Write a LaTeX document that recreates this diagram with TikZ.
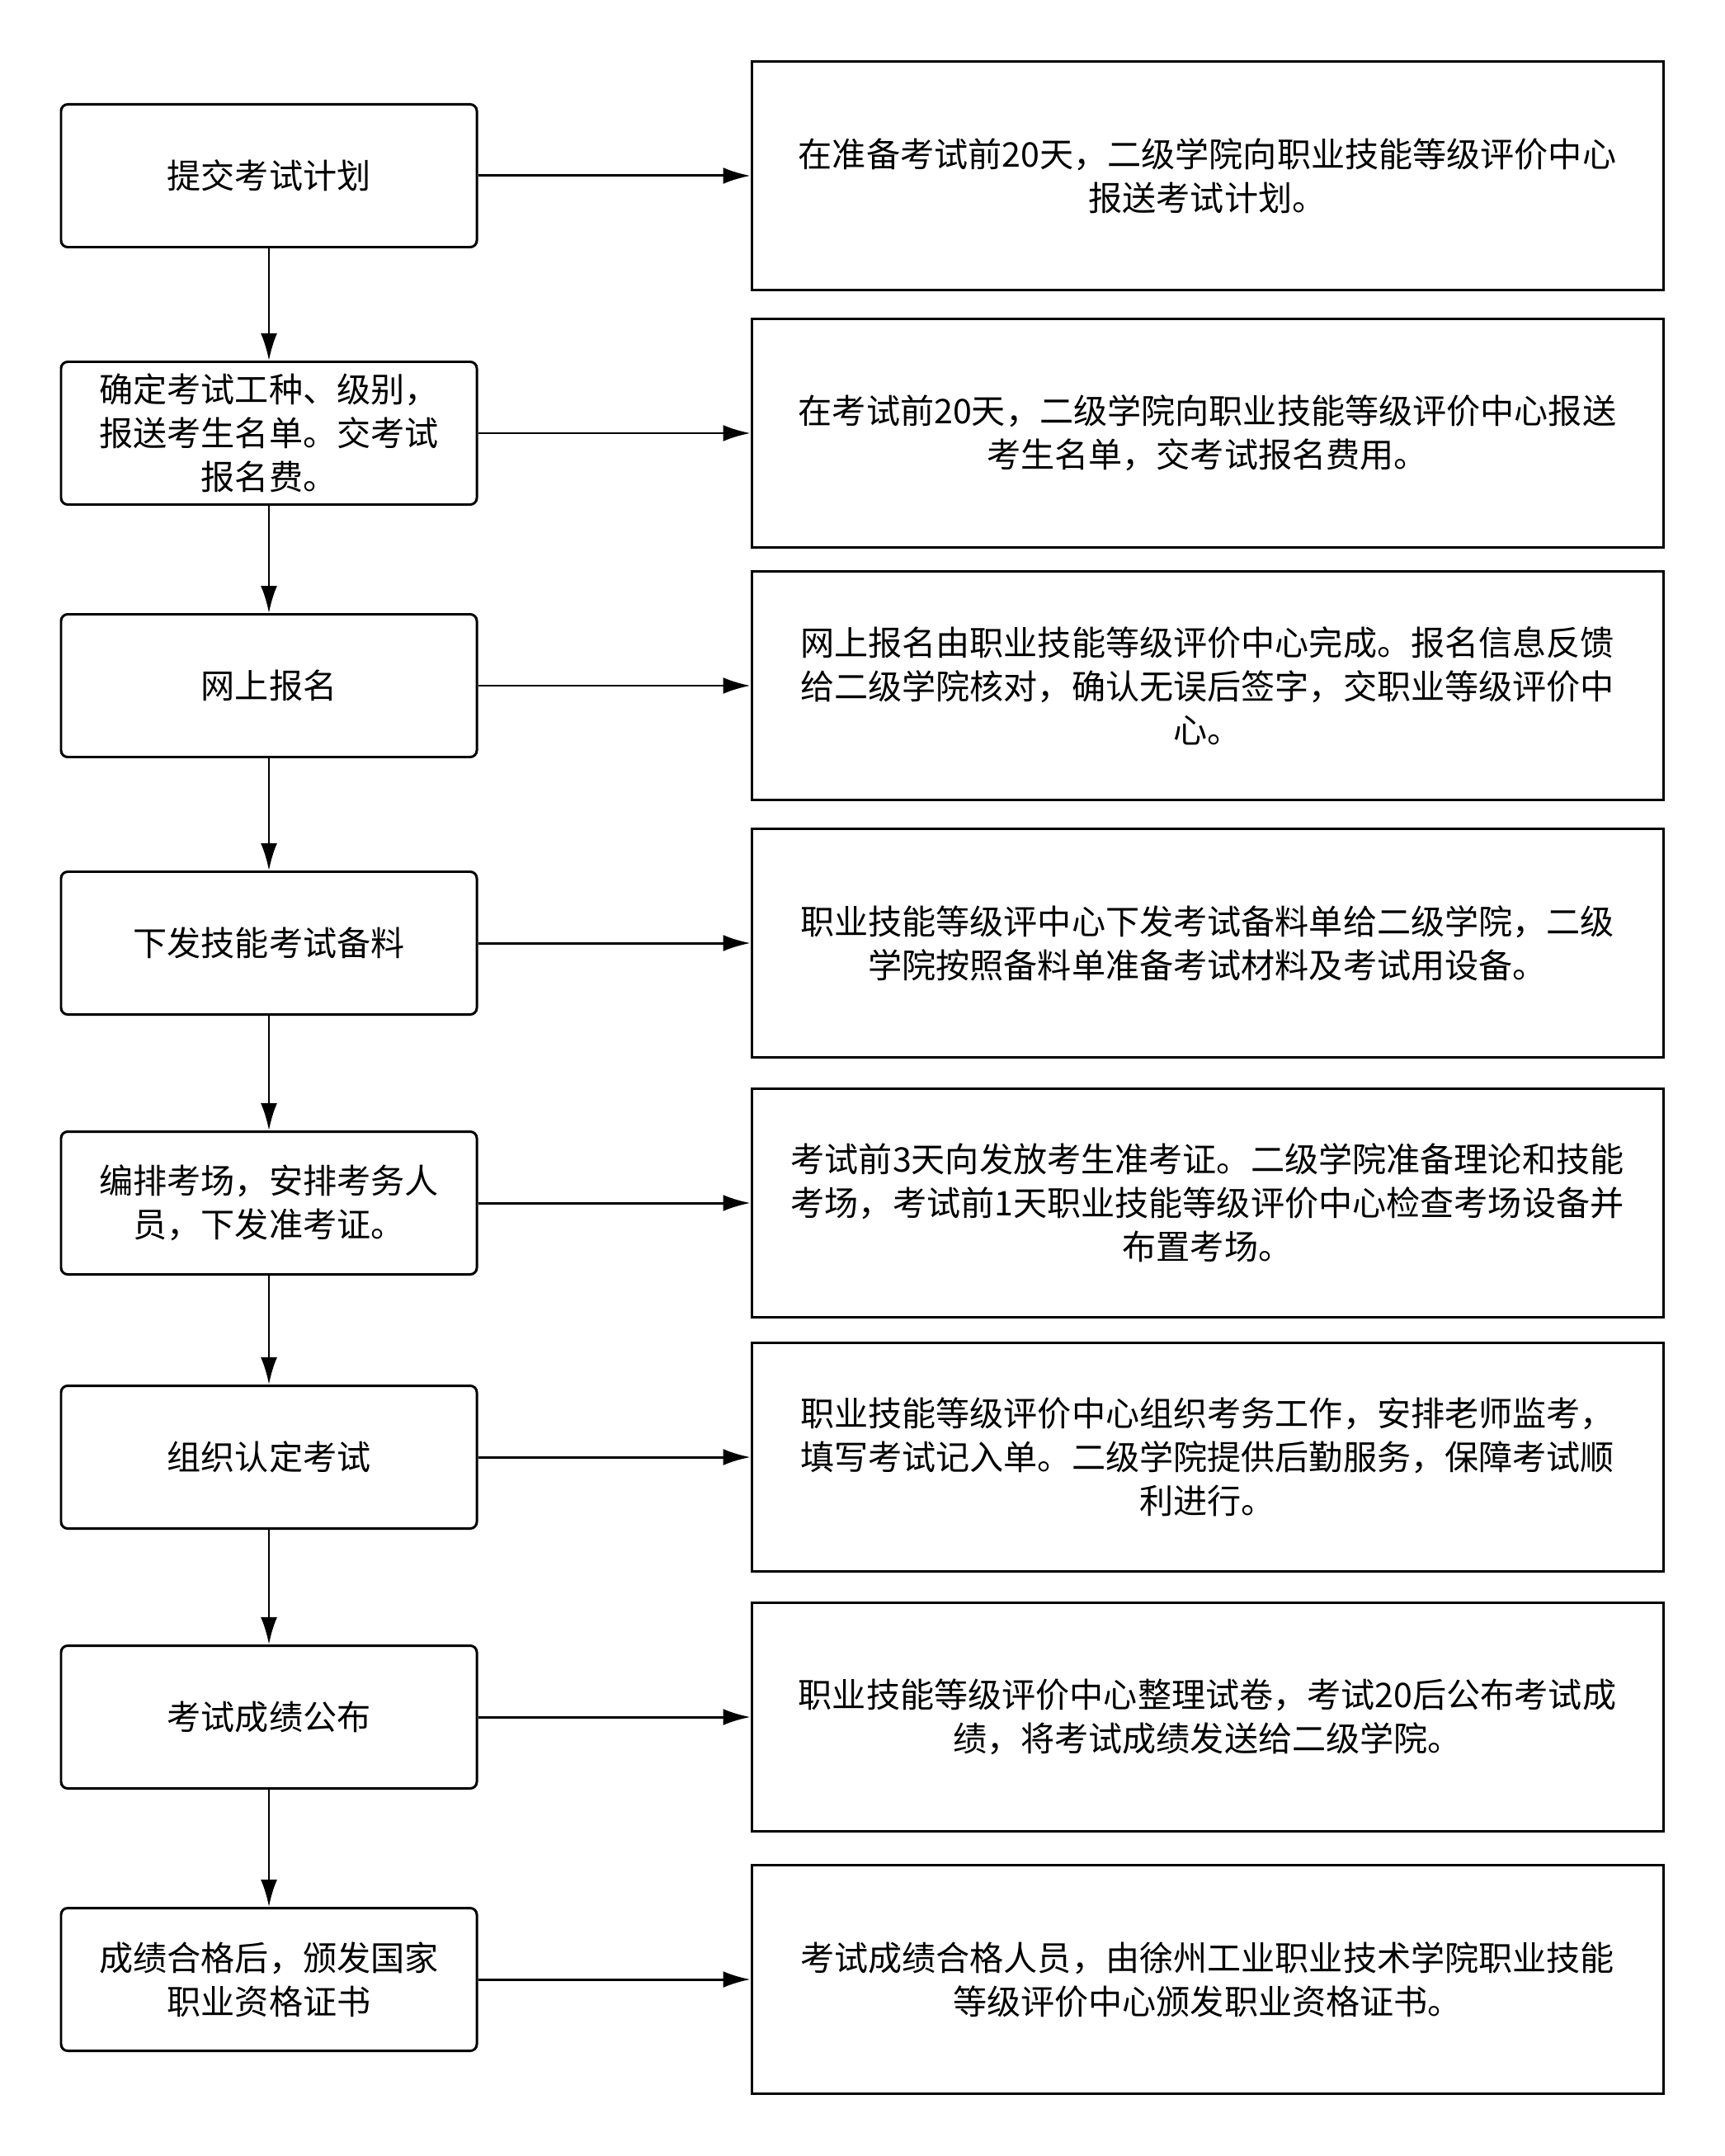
\documentclass[tikz,border=0pt]{standalone}
\usepackage{fontspec}
\newfontfamily\cjk{Noto Sans CJK SC}
\usepackage{tikz}
\usetikzlibrary{arrows.meta}

\begin{document}
\begin{tikzpicture}[line width=0.85pt, >={Latex[length=3.3mm, width=2mm]},
	every node/.style={font=\cjk\fontsize{11.7pt}{15.1pt}\selectfont, align=center, inner sep=0pt},
	task/.style={draw, rounded corners=0.08cm, minimum width=5.04cm, minimum height=1.73cm},
	info/.style={draw, minimum width=11.05cm, minimum height=2.77cm}]
	\useasboundingbox (0,0) rectangle (20.91,-26.13);
	% left column
	\node[task] (task1) at (3.26,-2.13) {提交考试计划};
	\node[task] (task2) at (3.26,-5.25) {确定考试工种、级别，\\报送考生名单。交考试\\报名费。};
	\node[task] (task3) at (3.26,-8.31) {网上报名};
	\node[task] (task4) at (3.26,-11.43) {下发技能考试备料};
	\node[task] (task5) at (3.26,-14.58) {编排考场，安排考务人\\员，下发准考证。};
	\node[task] (task6) at (3.26,-17.66) {组织认定考试};
	\node[task] (task7) at (3.26,-20.81) {考试成绩公布};
	\node[task] (task8) at (3.26,-23.99) {成绩合格后，颁发国家\\职业资格证书};
	% right column
	\node[info] (info1) at (14.635,-2.13) {在准备考试前20天，二级学院向职业技能等级评价中心\\报送考试计划。};
	\node[info] (info2) at (14.635,-5.25) {在考试前20天，二级学院向职业技能等级评价中心报送\\考生名单，交考试报名费用。};
	\node[info] (info3) at (14.635,-8.31) {网上报名由职业技能等级评价中心完成。报名信息反馈\\给二级学院核对，确认无误后签字，交职业等级评价中\\心。};
	\node[info] (info4) at (14.635,-11.43) {职业技能等级评中心下发考试备料单给二级学院，二级\\学院按照备料单准备考试材料及考试用设备。};
	\node[info] (info5) at (14.635,-14.58) {考试前3天向发放考生准考证。二级学院准备理论和技能\\考场，考试前1天职业技能等级评价中心检查考场设备并\\布置考场。};
	\node[info] (info6) at (14.635,-17.66) {职业技能等级评价中心组织考务工作，安排老师监考，\\填写考试记入单。二级学院提供后勤服务，保障考试顺\\利进行。};
	\node[info] (info7) at (14.635,-20.81) {职业技能等级评价中心整理试卷，考试20后公布考试成\\绩，将考试成绩发送给二级学院。};
	\node[info] (info8) at (14.635,-23.99) {考试成绩合格人员，由徐州工业职业技术学院职业技能\\等级评价中心颁发职业资格证书。};
	% vertical flow
	\draw[->] (task1) -- (task2);
	\draw[->] (task2) -- (task3);
	\draw[->] (task3) -- (task4);
	\draw[->] (task4) -- (task5);
	\draw[->] (task5) -- (task6);
	\draw[->] (task6) -- (task7);
	\draw[->] (task7) -- (task8);
	% to the notes
	\draw[->] (task1) -- (info1);
	\draw[->] (task2) -- (info2);
	\draw[->] (task3) -- (info3);
	\draw[->] (task4) -- (info4);
	\draw[->] (task5) -- (info5);
	\draw[->] (task6) -- (info6);
	\draw[->] (task7) -- (info7);
	\draw[->] (task8) -- (info8);
\end{tikzpicture}
\end{document}
